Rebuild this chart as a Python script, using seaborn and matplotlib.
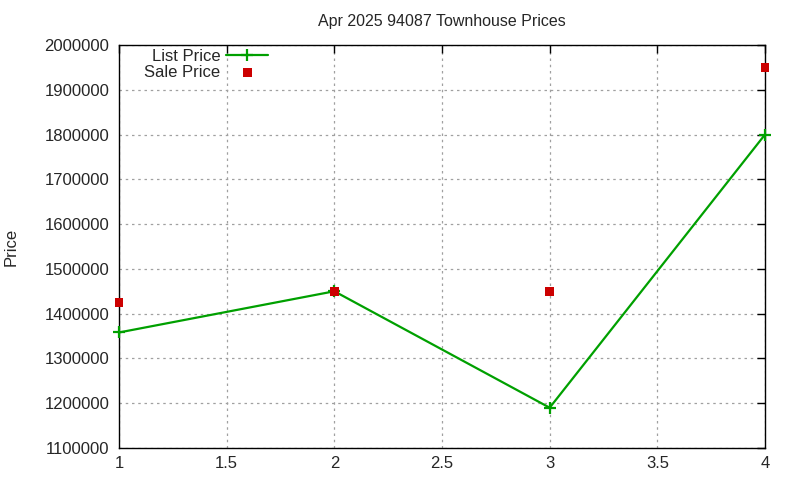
import matplotlib
matplotlib.use("Agg")
import matplotlib.pyplot as plt
import seaborn as sns
import pandas as pd
from matplotlib.ticker import FuncFormatter

x_vals = [1, 2, 3, 4]
list_price = [1358000, 1450000, 1190000, 1800000]
sale_price = [1425000, 1450000, 1450000, 1950000]
title = "Apr 2025 94087 Townhouse Prices"

df = pd.DataFrame({"x": x_vals, "List Price": list_price, "Sale Price": sale_price})

sns.set_style("white")
plt.rcParams['font.family'] = ['Liberation Sans', 'DejaVu Sans']

fig = plt.figure(figsize=(8, 4.8), dpi=100)
ax = fig.add_axes([119/800, 1 - 448/480, (765-119)/800, (448-45)/480])

sns.lineplot(data=df, x="x", y="List Price", ax=ax, color="#00a000", linewidth=1.6,
             marker="+", markersize=8, markeredgewidth=1.6, markeredgecolor="#00a000",
             label="List Price", clip_on=False, zorder=4)
sns.scatterplot(data=df, x="x", y="Sale Price", ax=ax, color="#cc0000", marker="s",
                s=40, edgecolor="none", label="Sale Price", zorder=5, clip_on=False)

ax.set_xlim(1, 4)
ax.set_ylim(1100000, 2000000)
ax.set_xticks([1, 1.5, 2, 2.5, 3, 3.5, 4])
ax.set_xticklabels(["1", "1.5", "2", "2.5", "3", "3.5", "4"])
ax.set_yticks(range(1100000, 2000001, 100000))
ax.yaxis.set_major_formatter(FuncFormatter(lambda v, p: f"{int(v)}"))
ax.grid(True, color="#a0a0a0", linestyle=(0, (2, 3)), linewidth=0.9)
ax.tick_params(axis="both", direction="in", length=6, labelsize=12, color="black",
               top=True, right=True, width=1)
ax.tick_params(axis="y", pad=7)
ax.tick_params(axis="x", pad=6)
for s in ax.spines.values():
    s.set_color("black")
    s.set_linewidth(1)
ax.set_xlabel("")
ax.set_ylabel("Price", fontsize=12)
ax.yaxis.set_label_coords(-0.1548, 0.5)
ax.set_title(title, fontsize=11.5, pad=14)

leg = ax.legend(loc="upper left", frameon=False, fontsize=12, markerfirst=False,
                bbox_to_anchor=(0.029, 1.0075), handlelength=2.5, borderaxespad=0.0,
                labelspacing=0.08, handletextpad=0.35)

fig.savefig("out.png", dpi=100)
